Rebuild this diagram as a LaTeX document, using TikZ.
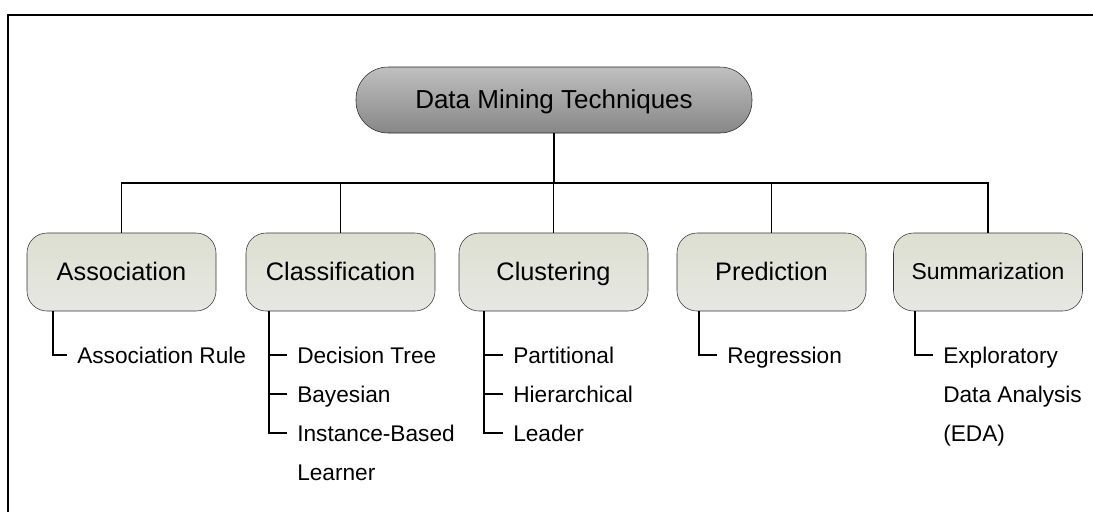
\documentclass[tikz,border=0pt]{standalone}
\usepackage{fontspec}
\setmainfont{Liberation Sans}
\definecolor{boxtop}{RGB}{221,223,208}
\definecolor{boxbot}{RGB}{231,231,227}
\tikzset{
  root/.style={draw=black!85,rounded corners=24pt,minimum width=297pt,minimum height=49.5pt,
    top color=black!25,bottom color=black!47,text height=14pt,text depth=1pt,
    font=\fontsize{19.5}{23}\selectfont},
  tech/.style={draw=black!80,rounded corners=15pt,minimum width=141.75pt,minimum height=58.5pt,
    top color=boxtop,bottom color=boxbot,text height=13.6pt,text depth=0.8pt,
    font=\fontsize{19}{23}\selectfont},
  item/.style={anchor=west,inner xsep=7.5pt,inner ysep=0pt,text height=12.2pt,text depth=0pt,
    font=\fontsize{17}{20}\selectfont},
  link/.style={line width=1.4pt}
}
\begin{document}
\begin{tikzpicture}[x=0.75pt,y=-0.75pt]
  \useasboundingbox (0,0) rectangle (1093,512);
  \draw[line width=1.6pt] (8,512) -- (8,15) -- (1093,15);
  % root and techniques
  \node[root] (DM) at (554,100) {Data Mining Techniques};
  \node[tech] (Asc) at (121.5,272) {Association};
  \node[tech] (Cls) at (340.5,272) {Classification};
  \node[tech] (Clu) at (553.5,272) {Clustering};
  \node[tech] (Pre) at (771.5,272) {Prediction};
  \node[tech,text height=12.4pt,font=\fontsize{17.2}{20}\selectfont] (Sum) at (988,272) {Summarization};
  \coordinate (bus) at (554,183);
  \draw[link] (DM) -- (bus);
  \draw[link] (Asc.north) |- (bus) -| (Sum.north);
  \draw[link] (Cls.north) -- (Cls.north |- bus);
  \draw[link] (Clu.north) -- (Clu.north |- bus);
  \draw[link] (Pre.north) -- (Pre.north |- bus);
  % methods
  \node[item] (ar) at (67,355) {Association Rule};
  \node[item] (dt) at (287,355) {Decision Tree};
  \node[item] (by) at (287,394) {Bayesian};
  \node[item] (ib) at (287,433) {Instance-Based};
  \node[item] (ib2) at (287,472) {Learner};
  \node[item] (pa) at (503,355) {Partitional};
  \node[item] (hi) at (503,394) {Hierarchical};
  \node[item] (le) at (503,433) {Leader};
  \node[item] (re) at (717,355) {Regression};
  \node[item] (ex) at (933,355) {Exploratory};
  \node[item] (da) at (933,394) {Data Analysis};
  \node[item] (eda) at (933,433) {(EDA)};
  \coordinate (ascv) at (53,0);
  \coordinate (clsv) at (269,0);
  \coordinate (cluv) at (484,0);
  \coordinate (prev) at (699,0);
  \coordinate (sumv) at (915,0);
  \draw[link] (Asc.south -| ascv) |- (ar.west);
  \draw[link] (Cls.south -| clsv) |- (ib.west);
  \draw[link] (dt.west) -- (dt.west -| clsv);
  \draw[link] (by.west) -- (by.west -| clsv);
  \draw[link] (Clu.south -| cluv) |- (le.west);
  \draw[link] (pa.west) -- (pa.west -| cluv);
  \draw[link] (hi.west) -- (hi.west -| cluv);
  \draw[link] (Pre.south -| prev) |- (re.west);
  \draw[link] (Sum.south -| sumv) |- (ex.west);
\end{tikzpicture}
\end{document}
